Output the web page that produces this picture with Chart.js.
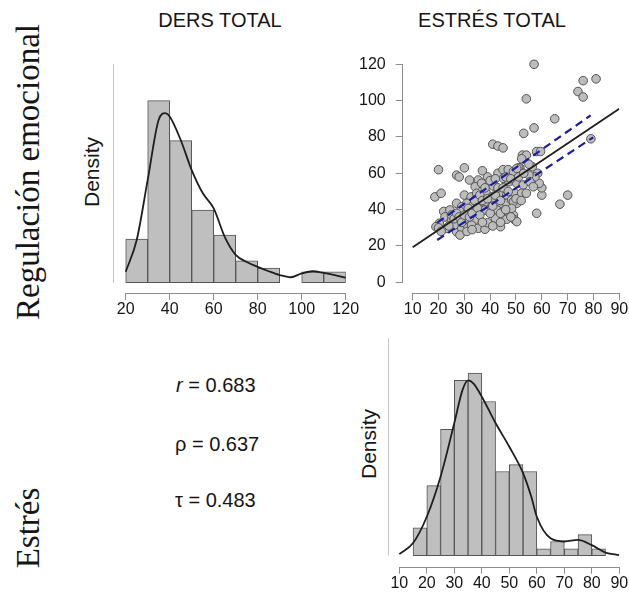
<!DOCTYPE html>
<html>
<head>
<meta charset="utf-8">
<script src="https://cdn.jsdelivr.net/npm/chart.js@4/dist/chart.umd.min.js"></script>
<style>
  body { margin: 0; background: #fff; width: 629px; height: 598px; position: relative; overflow: hidden;
         font-family: 'Liberation Sans', Arial, sans-serif; color: #151515; }
  canvas { position: absolute; }
  .t { position: absolute; white-space: nowrap; transform: translate(-50%, -50%); }
  .rot { transform: translate(-50%, -50%) rotate(-90deg); }
  .serif { font-family: 'Liberation Serif', 'Times New Roman', serif; font-size: 33px; }
  .stat { position: absolute; white-space: nowrap; font-size: 20px; transform: translateY(-50%); }
</style>
</head>
<body>

<div class="t" style="left:220px;top:20px;font-size:20px">DERS TOTAL</div>
<div class="t" style="left:492px;top:20px;font-size:20px">ESTRÉS TOTAL</div>
<div class="t rot serif" style="left:28px;top:172px">Regulación emocional</div>
<div class="t rot serif" style="left:28px;top:528px">Estrés</div>
<div class="t rot" style="left:92px;top:172px;font-size:21px">Density</div>
<div class="t rot" style="left:369px;top:444px;font-size:21px">Density</div>
<div class="stat" style="left:176px;top:385px"><i>r</i> = 0.683</div>
<div class="stat" style="left:175px;top:444px">ρ = 0.637</div>
<div class="stat" style="left:175px;top:500px">τ = 0.483</div>

<canvas id="histDers" width="310" height="290" style="left:60px;top:40px"></canvas>
<canvas id="scatter" width="269" height="290" style="left:360px;top:40px"></canvas>
<canvas id="histEstres" width="279" height="278" style="left:350px;top:320px"></canvas>

<script>
// ── datos ──

// DERS TOTAL: histograma (centro de clase, densidad) y curva de densidad
const dersBins = [25, 35, 45, 55, 65, 75, 85, 95, 105, 115];
const dersDensity = [0.008, 0.0333, 0.026, 0.0133, 0.0087, 0.004, 0.0027, 0, 0.002, 0.002];
const dersKdeX = [20, 25, 30, 35, 38, 40, 45, 50, 55, 60, 65, 70, 75, 80, 85, 90, 95, 100, 105, 110, 115, 120];
const dersKdeY = [0.002, 0.0078, 0.0188, 0.0298, 0.031, 0.0304, 0.0261, 0.0206, 0.0164, 0.0136, 0.0084,
                  0.0051, 0.0038, 0.0029, 0.0021, 0.0014, 0.001, 0.0017, 0.0021, 0.0018, 0.0014, 0.0009];

// ESTRÉS TOTAL: histograma y curva de densidad
const estresBins = [17.5, 22.5, 27.5, 32.5, 37.5, 42.5, 47.5, 52.5, 57.5, 62.5, 67.5, 72.5, 77.5, 82.5];
const estresDensity = [0.0053, 0.0133, 0.024, 0.0333, 0.0347, 0.0293, 0.016, 0.0173, 0.016,
                       0.0013, 0.0027, 0.0013, 0.004, 0.0013];
const estresKdeX = [10, 15, 20, 25, 30, 33, 35, 37, 40, 45, 50, 55, 58, 60, 65, 70, 75, 80, 85, 90];
const estresKdeY = [0.0003, 0.0024, 0.0074, 0.015, 0.0252, 0.0315, 0.0333, 0.0327, 0.0302, 0.0252,
                    0.0207, 0.0157, 0.0112, 0.0074, 0.0033, 0.0027, 0.003, 0.002, 0.0006, 0.0001];

// dispersión: x = estrés, y = DERS
const scatterX = [57, 54, 81, 76, 74, 76, 65, 57, 53, 79, 41, 43, 45, 58, 59.5, 52.5, 54, 51.5,
  20, 30, 27, 28, 18.6, 21, 22, 67, 70, 58, 60, 60, 59, 58.4, 57.3,
  37, 39, 35.4, 32, 43, 45, 47, 51, 49, 55, 56.3, 52.2,
  34.2, 36.7, 41.2, 45.1, 47.3, 50.3, 52.8, 55.4, 56.7,
  30, 32.6, 34.8, 38.4, 40.6, 43.8, 46.4, 49.6, 52.2, 54,
  27, 29, 31, 33.5, 36, 38.6, 41.2, 43.5, 46.4, 48.3, 50.3, 49,
  24.4, 28.3, 31.5, 34.8, 38, 40.6, 42.7, 45, 47.7, 49, 48.3,
  22.5, 25, 20.3, 19, 23.2, 27, 29, 31, 30, 34, 32.8, 35.4, 38, 39, 42, 44, 46.4, 49.6, 50.3, 26, 28.3,
  50.3,
  20, 21, 24, 25, 26, 27, 28, 29, 30, 31, 32, 33, 33, 34, 35, 36, 36, 37, 37, 38, 39,
  40, 40, 41, 42, 42, 43, 44, 44, 45, 46, 46, 47, 48, 48, 50, 51, 52, 53, 55, 44, 41];
const scatterY = [120, 101, 112, 111, 105, 102, 90, 85, 82, 79, 76, 75, 74, 72, 72, 70, 70, 63,
  62, 63, 59, 58, 47, 49, 39, 43, 48, 38, 48, 52, 54.5, 60, 58,
  61.4, 58, 56.3, 56.3, 60, 62, 62, 63, 61, 59, 63.6, 68,
  52.6, 54.5, 53, 57.2, 55.4, 54.5, 53.6, 55.4, 52.6,
  48, 47, 49, 49.3, 47, 49, 48, 49, 49, 49,
  43.5, 41.6, 43.5, 42.5, 44.4, 43.5, 44.4, 43, 43.5, 45.3, 43.5, 44.4,
  39.8, 39, 40.7, 39.8, 39.8, 41.6, 39.8, 39, 39.8, 37, 40.7,
  36, 34.3, 32.5, 30.6, 29.7, 27.8, 29.7, 31.5, 34.3, 34.3, 31.5, 29.7, 29.2, 32.8, 35.2, 30.6, 34.7, 34.3, 33.4, 31.5, 26,
  62.7,
  30, 28, 31, 37, 35, 38, 36, 33, 37, 28, 36, 38, 29, 45, 41, 37, 48, 33, 45, 52, 46,
  38, 56, 42, 48, 57, 52, 45, 38, 52, 58, 40, 50, 57, 36, 46, 58, 45, 60, 65, 33, 31];

// recta de regresión y bandas (extremos leídos)
const fitX = [10, 90];
const fitY = [19.3, 95.5];
const upperX = [19.5, 78.9];
const upperY = [32.8, 91.9];
const lowerX = [19.5, 79.9];
const lowerY = [23.3, 79.8];

// marcas de los ejes
const dersTicks = [20, 40, 60, 80, 100, 120];
const estresTicks = [10, 20, 30, 40, 50, 60, 70, 80, 90];
const yTicksScatter = [0, 20, 40, 60, 80, 100, 120];

const FONT = { family: "'Liberation Sans', Arial, sans-serif", size: 16 };
const pts = (xs, ys) => xs.map((x, i) => ({ x, y: ys[i] }));

// línea de eje estilo R: solo entre la primera y la última marca
const rAxis = {
  id: 'rAxis',
  afterDraw(chart) {
    const ctx = chart.ctx, a = chart.chartArea;
    ctx.save();
    ctx.lineWidth = 1;
    for (const s of Object.values(chart.scales)) {
      const o = s.options.rLine;
      if (!o) continue;
      ctx.strokeStyle = o.color;
      ctx.beginPath();
      if (s.isHorizontal()) {
        const y = Math.round(a.bottom) + 0.5;
        ctx.moveTo(s.getPixelForValue(o.from), y);
        ctx.lineTo(s.getPixelForValue(o.to), y);
      } else {
        const x = Math.round(a.left) - 0.5;
        ctx.moveTo(x, s.getPixelForValue(o.from));
        ctx.lineTo(x, s.getPixelForValue(o.to));
      }
      ctx.stroke();
    }
    ctx.restore();
  }
};

function xAxis(min, max, ticks, height) {
  return {
    type: 'linear', min, max, offset: false,
    afterBuildTicks: s => { s.ticks = ticks.map(v => ({ value: v })); },
    afterFit: s => { s.height = height; },
    grid: { display: true, drawOnChartArea: false, drawTicks: true, tickLength: 7, color: '#8c8c8c', offset: false },
    border: { display: false },
    ticks: { color: '#151515', font: FONT, padding: 0, maxRotation: 0, autoSkip: false },
    rLine: { from: ticks[0], to: ticks[ticks.length - 1], color: '#8c8c8c' }
  };
}

function histChart(id, bins, dens, kx, ky, x, y, pad) {
  return new Chart(document.getElementById(id), {
    type: 'bar',
    data: {
      datasets: [
        { type: 'line', data: pts(kx, ky), borderColor: '#1e1e1e', borderWidth: 1.8,
          pointRadius: 0, cubicInterpolationMode: 'monotone', fill: false, order: 0 },
        { type: 'bar', data: pts(bins, dens), backgroundColor: '#bfbfbf', borderColor: '#555555',
          borderWidth: 1, borderSkipped: false, barPercentage: 1, categoryPercentage: 1, order: 1 }
      ]
    },
    options: {
      responsive: false, animation: false,
      layout: { padding: pad },
      plugins: { legend: { display: false }, tooltip: { enabled: false } },
      scales: { x, y }
    },
    plugins: [rAxis]
  });
}

// histograma DERS
histChart('histDers', dersBins, dersDensity, dersKdeX, dersKdeY,
  xAxis(14.68, 120, dersTicks, 37),
  { type: 'linear', min: -0.00188, max: 0.04,
    afterFit: s => { s.width = 54; },
    grid: { display: false }, border: { display: false }, ticks: { display: false },
    rLine: { from: 0, to: 0.04, color: '#c4c4c4' } },
  { left: 0, top: 24, right: 24.3, bottom: 0 });

// histograma ESTRÉS
histChart('histEstres', estresBins, estresDensity, estresKdeX, estresKdeY,
  xAxis(6.25, 90, estresTicks, 31.3),
  { type: 'linear', min: -0.00209, max: 0.0413,
    afterFit: s => { s.width = 39; },
    grid: { display: false }, border: { display: false }, ticks: { display: false },
    rLine: { from: 0, to: 0.0413, color: '#c4c4c4' } },
  { left: 0, top: 18.3, right: 9.7, bottom: 0 });

// dispersión
new Chart(document.getElementById('scatter'), {
  type: 'scatter',
  data: {
    datasets: [
      { type: 'line', data: pts(fitX, fitY), borderColor: '#1e1e1e', borderWidth: 1.8, pointRadius: 0, order: 0 },
      { type: 'line', data: pts(upperX, upperY), borderColor: '#1c1ca0', borderWidth: 2.2,
        borderDash: [8, 5], pointRadius: 0, order: 0 },
      { type: 'line', data: pts(lowerX, lowerY), borderColor: '#1c1ca0', borderWidth: 2.2,
        borderDash: [8, 5], pointRadius: 0, order: 0 },
      { data: pts(scatterX, scatterY), backgroundColor: '#bdbdbd', borderColor: '#525252',
        borderWidth: 1, pointRadius: 4.3, clip: false, order: 1 }
    ]
  },
  options: {
    responsive: false, animation: false,
    layout: { padding: { left: 0, top: 24.3, right: 9.7, bottom: 0 } },
    plugins: { legend: { display: false }, tooltip: { enabled: false } },
    scales: {
      x: xAxis(6.13, 90, estresTicks, 36.7),
      y: {
        type: 'linear', min: -6.05, max: 120,
        afterBuildTicks: s => { s.ticks = yTicksScatter.map(v => ({ value: v })); },
        afterFit: s => { s.width = 42.7; },
        grid: { display: true, drawOnChartArea: false, drawTicks: true, tickLength: 7, color: '#8c8c8c' },
        border: { display: false },
        ticks: { color: '#151515', font: FONT, padding: 10 },
        rLine: { from: 0, to: 120, color: '#8c8c8c' }
      }
    }
  },
  plugins: [rAxis]
});
</script>
</body>
</html>
